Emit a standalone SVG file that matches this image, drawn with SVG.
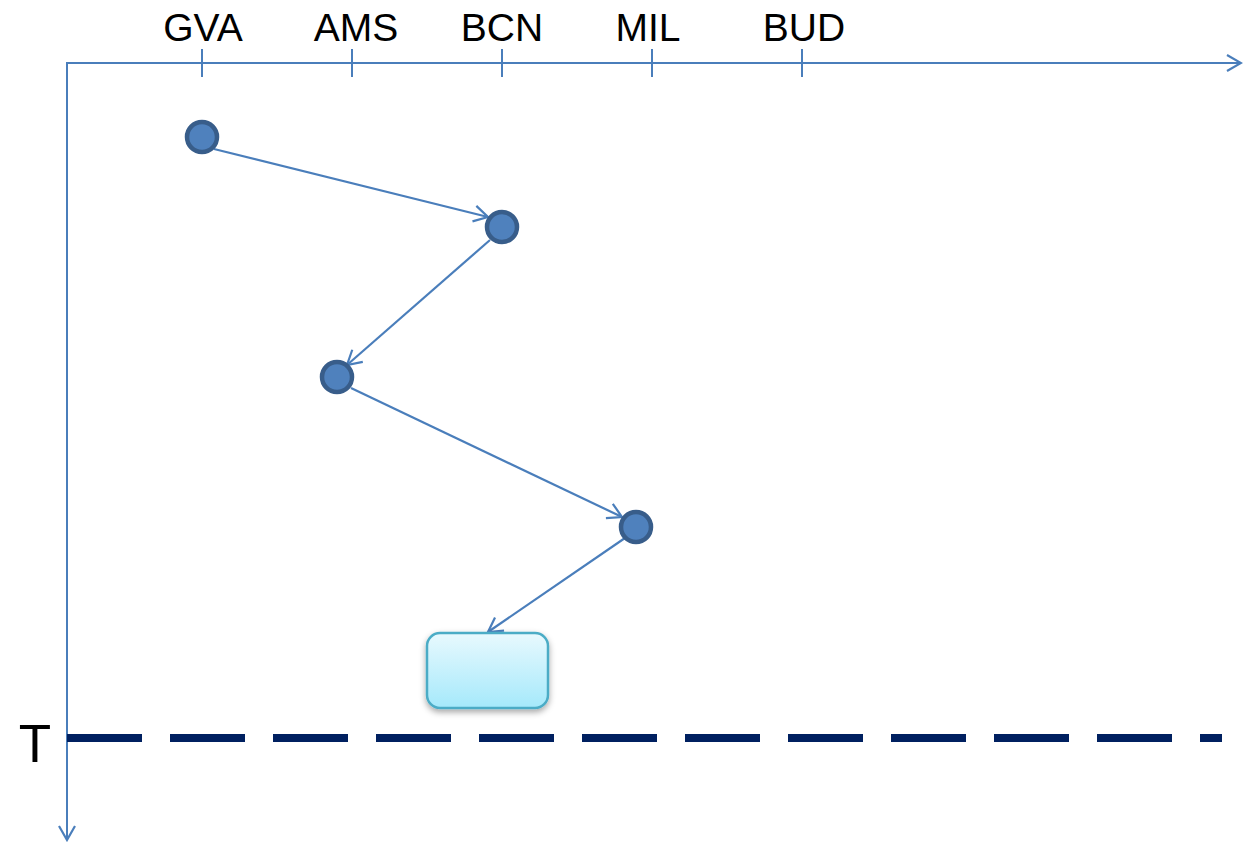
<svg xmlns="http://www.w3.org/2000/svg" width="1243" height="842" viewBox="0 0 1243 842">
  <style>
    .axis { stroke: #4a7ebb; stroke-width: 2; fill: none; }
    .tick { stroke: #4a7ebb; stroke-width: 2; }
    .city { font-family: "Liberation Sans", Arial, sans-serif; font-size: 39px; fill: #000; text-anchor: middle; }
    .stop { fill: #4f81bd; stroke: #385d8a; stroke-width: 4.5; }
    .hop { stroke: #4a7ebb; stroke-width: 2.2; fill: none; marker-end: url(#open); }
  </style>
  <defs>
    <marker id="open" markerUnits="userSpaceOnUse" markerWidth="20" markerHeight="20" viewBox="0 0 20 20" refX="17" refY="10" orient="auto">
      <path d="M3,2 L17,10 L3,18" fill="none" stroke="#4a7ebb" stroke-width="2.2"/>
    </marker>
    <linearGradient id="boxFill" x1="0" y1="0" x2="0" y2="1">
      <stop offset="0" stop-color="#e8f9fe"/>
      <stop offset="1" stop-color="#a5e9fb"/>
    </linearGradient>
    <filter id="shadow" x="-20%" y="-20%" width="140%" height="150%">
      <feDropShadow dx="0" dy="3" stdDeviation="3" flood-color="#000" flood-opacity="0.35"/>
    </filter>
  </defs>

  <rect width="1243" height="842" fill="#fff"/>

  <!-- axes -->
  <g id="axes">
    <line class="axis" x1="67" y1="63" x2="1241" y2="63" marker-end="url(#open)"/>
    <line class="axis" x1="67" y1="62" x2="67" y2="840" marker-end="url(#open)"/>
    <line class="tick" x1="202" y1="49" x2="202" y2="77"/>
    <line class="tick" x1="352" y1="49" x2="352" y2="77"/>
    <line class="tick" x1="502" y1="49" x2="502" y2="77"/>
    <line class="tick" x1="652" y1="49" x2="652" y2="77"/>
    <line class="tick" x1="802" y1="49" x2="802" y2="77"/>
    <text class="city" x="203" y="41">GVA</text>
    <text class="city" x="356" y="41">AMS</text>
    <text class="city" x="502" y="41">BCN</text>
    <text class="city" x="648" y="41">MIL</text>
    <text class="city" x="804" y="41">BUD</text>
  </g>

  <!-- time limit -->
  <g id="limit">
    <line x1="67" y1="738" x2="1222" y2="738" stroke="#002060" stroke-width="8" stroke-dasharray="75 28"/>
    <text x="35" y="762" font-family="Liberation Sans, Arial, sans-serif" font-size="53" text-anchor="middle" fill="#000">T</text>
  </g>

  <!-- connectors -->
  <g id="connectors">
    <line class="hop" x1="214" y1="149" x2="488" y2="217"/>
    <line class="hop" x1="490" y1="240" x2="347" y2="365"/>
    <line class="hop" x1="351" y1="388" x2="622" y2="517"/>
    <line class="hop" x1="625" y1="538" x2="488" y2="632"/>
  </g>

  <!-- stops -->
  <g id="stop-gva"><circle class="stop" cx="202" cy="137" r="15"/></g>
  <g id="stop-bcn"><circle class="stop" cx="502" cy="227" r="15"/></g>
  <g id="stop-ams"><circle class="stop" cx="337" cy="377" r="15"/></g>
  <g id="stop-mil"><circle class="stop" cx="636" cy="527" r="15"/></g>

  <!-- end state -->
  <g id="end-box">
    <rect x="427" y="633" width="121" height="75" rx="13" fill="url(#boxFill)" stroke="#4bacc6" stroke-width="2.5" filter="url(#shadow)"/>
  </g>
</svg>
